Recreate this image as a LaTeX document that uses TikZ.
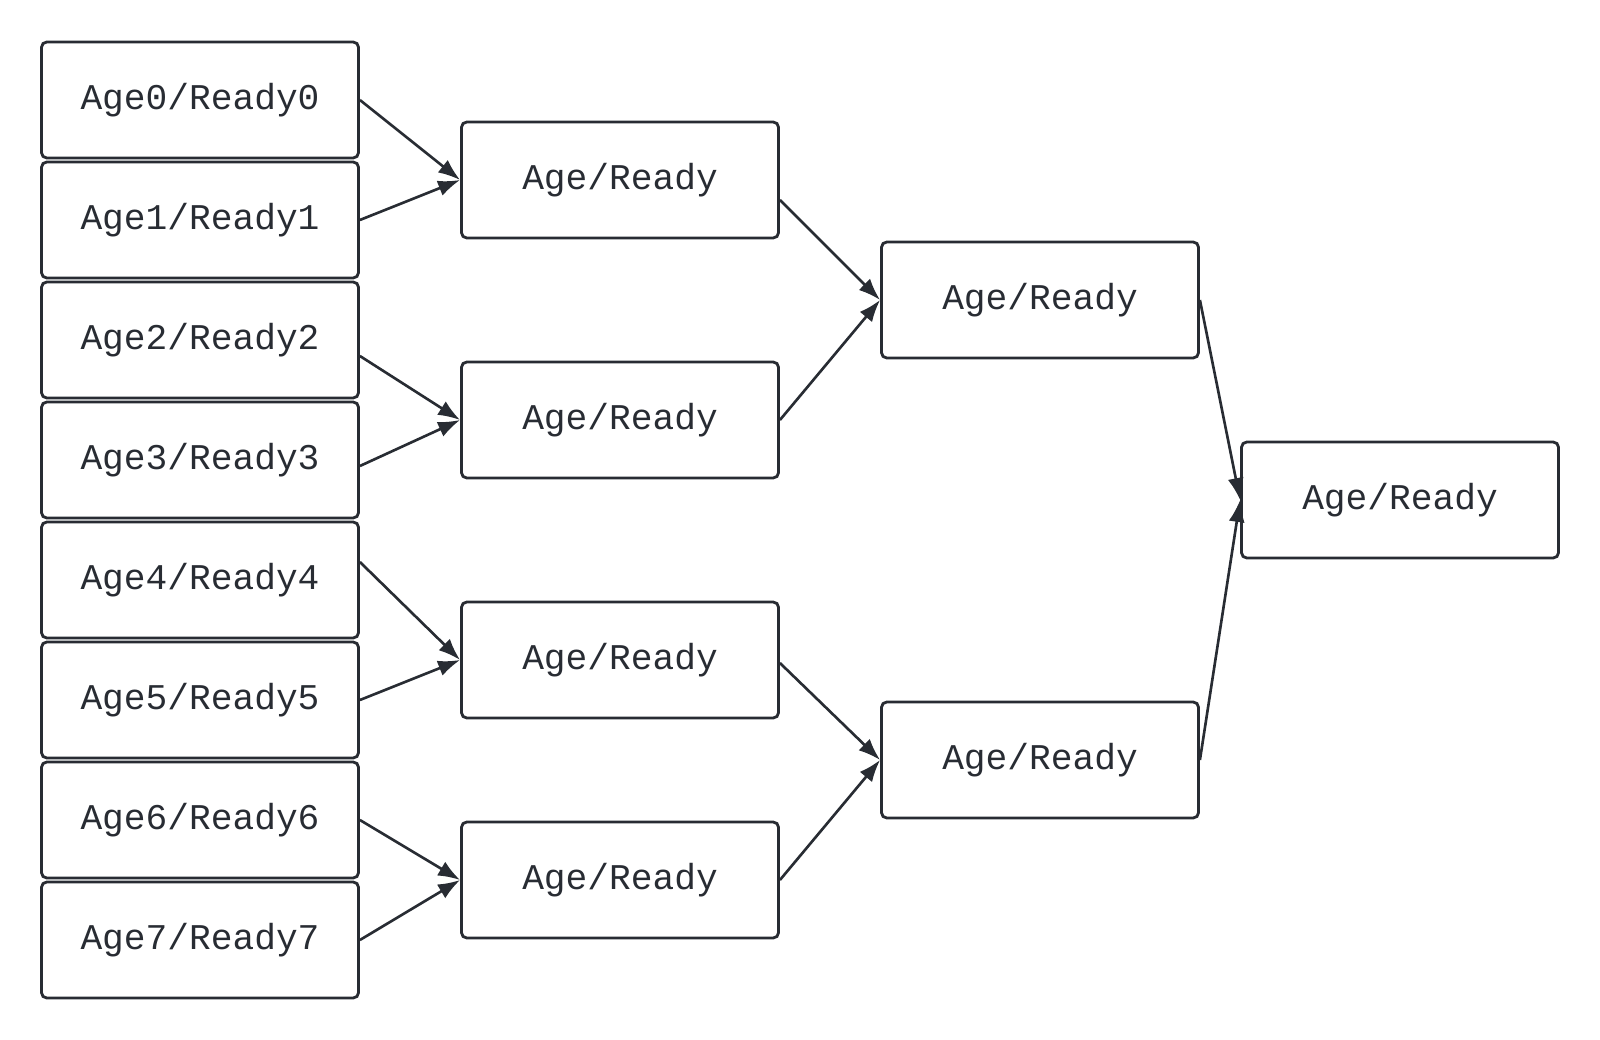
\documentclass[tikz,border=0pt]{standalone}
\usepackage{fontspec}
\setmonofont{Liberation Mono}
\usetikzlibrary{arrows.meta}
\definecolor{ink}{HTML}{282C33}
\tikzset{
  box/.style={draw=ink, rounded corners=1.5pt, line width=0.8pt, minimum width=3.17cm, minimum height=1.16cm, inner sep=0pt, align=center, text=ink, font=\ttfamily\fontsize{10.3}{12}\selectfont},
  arrow/.style={draw=ink, -{Latex[length=2.2mm,width=1.6mm]}, line width=0.75pt}
}

\begin{document}
\begin{tikzpicture}
\useasboundingbox (0,0) rectangle (16,-10.4);
% inputs
\node[box] (in0) at (2.0,-1.0) {Age0/Ready0};
\node[box] (in1) at (2.0,-2.2) {Age1/Ready1};
\node[box] (in2) at (2.0,-3.4) {Age2/Ready2};
\node[box] (in3) at (2.0,-4.6) {Age3/Ready3};
\node[box] (in4) at (2.0,-5.8) {Age4/Ready4};
\node[box] (in5) at (2.0,-7.0) {Age5/Ready5};
\node[box] (in6) at (2.0,-8.2) {Age6/Ready6};
\node[box] (in7) at (2.0,-9.4) {Age7/Ready7};
% level 1
\node[box] (a0) at (6.2,-1.8) {Age/Ready};
\node[box] (a1) at (6.2,-4.2) {Age/Ready};
\node[box] (a2) at (6.2,-6.6) {Age/Ready};
\node[box] (a3) at (6.2,-8.8) {Age/Ready};
% level 2
\node[box] (b0) at (10.4,-3.0) {Age/Ready};
\node[box] (b1) at (10.4,-7.6) {Age/Ready};
% level 3
\node[box] (c0) at (14.0,-5.0) {Age/Ready};
% connectors
\draw[arrow] (in0.east) -- (a0.west);
\draw[arrow] (in1.east) -- (a0.west);
\draw[arrow] ([yshift=-1.6mm]in2.east) -- (a1.west);
\draw[arrow] ([yshift=-0.6mm]in3.east) -- (a1.west);
\draw[arrow] ([yshift=1.8mm]in4.east) -- (a2.west);
\draw[arrow] (in5.east) -- (a2.west);
\draw[arrow] (in6.east) -- (a3.west);
\draw[arrow] (in7.east) -- (a3.west);
\draw[arrow] ([yshift=-2mm]a0.east) -- (b0.west);
\draw[arrow] (a1.east) -- (b0.west);
\draw[arrow] ([yshift=-0.3mm]a2.east) -- (b1.west);
\draw[arrow] (a3.east) -- (b1.west);
\draw[arrow] (b0.east) -- (c0.west);
\draw[arrow] (b1.east) -- (c0.west);
\end{tikzpicture}
\end{document}
